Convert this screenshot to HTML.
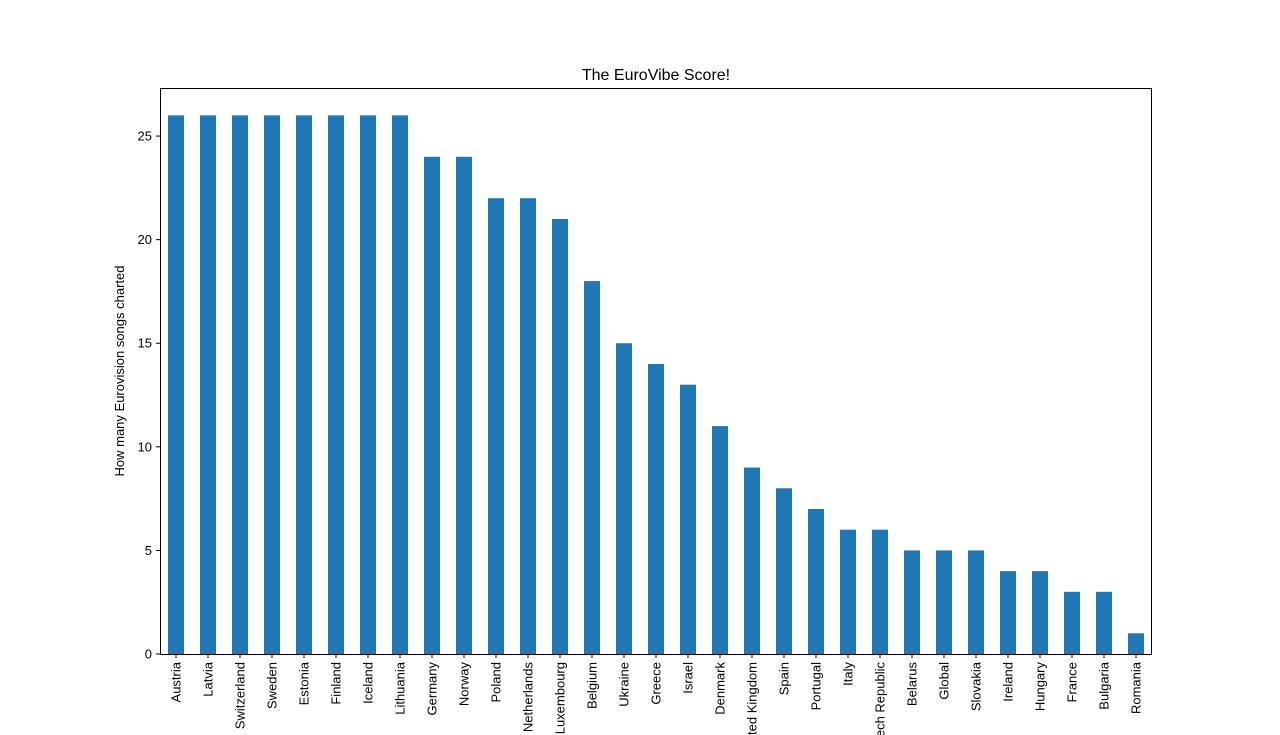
<!DOCTYPE html>
<html><head><meta charset="utf-8"><style>
body{margin:0;background:#fff;}
svg{display:block;font-family:"Liberation Sans","DejaVu Sans",sans-serif;}
</style></head><body>
<svg id="chart" width="1280" height="735">
<text x="656" y="80" text-anchor="middle" font-size="16">The EuroVibe Score!</text>
<text transform="translate(124,371) rotate(-90)" text-anchor="middle" font-size="13">How many Eurovision songs charted</text>
<g id="bars"></g><g id="yticks"></g><g id="xticks"></g>
<rect x="160.5" y="88.5" width="991" height="566" fill="none" stroke="#000" stroke-width="1"/>
</svg>
<script>
const categories=["Austria","Latvia","Switzerland","Sweden","Estonia","Finland","Iceland","Lithuania","Germany","Norway","Poland","Netherlands","Luxembourg","Belgium","Ukraine","Greece","Israel","Denmark","United Kingdom","Spain","Portugal","Italy","Czech Republic","Belarus","Global","Slovakia","Ireland","Hungary","France","Bulgaria","Romania"];
const values=[26,26,26,26,26,26,26,26,24,24,22,22,21,18,15,14,13,11,9,8,7,6,6,5,5,5,4,4,3,3,1];
const yTicks=[0,5,10,15,20,25];
const NS="http://www.w3.org/2000/svg";
const x0=160,x1=1152,yBase=654,yTop=88,yMax=27.32;
const step=(x1-x0)/categories.length;
const xc=i=>x0+step*(i+0.5);
const ys=v=>yBase-(v/yMax)*(yBase-yTop);
const bars=document.getElementById('bars'),yt=document.getElementById('yticks'),xt=document.getElementById('xticks');
values.forEach((v,i)=>{
 const r=document.createElementNS(NS,'rect');
 
 
 r.setAttribute('x',xc(i)-step/4);r.setAttribute('width',step/2);
 r.setAttribute('y',ys(v));r.setAttribute('height',yBase-ys(v));
 r.setAttribute('fill','#1f77b4');bars.appendChild(r);
 const t=document.createElementNS(NS,'line');
 
 
 t.setAttribute('x1',xc(i));t.setAttribute('x2',xc(i));t.setAttribute('y1',yBase);t.setAttribute('y2',yBase+4);t.setAttribute('stroke','#000');xt.appendChild(t);
 const l=document.createElementNS(NS,'text');
 
 
 l.setAttribute('transform','translate('+(xc(i)+4.5)+','+(yBase+8)+') rotate(-90)');
 l.setAttribute('text-anchor','end');l.setAttribute('font-size','13');l.textContent=categories[i];xt.appendChild(l);
});
yTicks.forEach(v=>{
 const t=document.createElementNS(NS,'line');
 
 
 t.setAttribute('x1',x0-4);t.setAttribute('x2',x0);t.setAttribute('y1',ys(v));t.setAttribute('y2',ys(v));t.setAttribute('stroke','#000');yt.appendChild(t);
 const l=document.createElementNS(NS,'text');
 
 
 l.setAttribute('x',x0-8);l.setAttribute('y',ys(v)+4.5);l.setAttribute('text-anchor','end');l.setAttribute('font-size','13');l.textContent=v;yt.appendChild(l);
});
</script>
</body></html>
